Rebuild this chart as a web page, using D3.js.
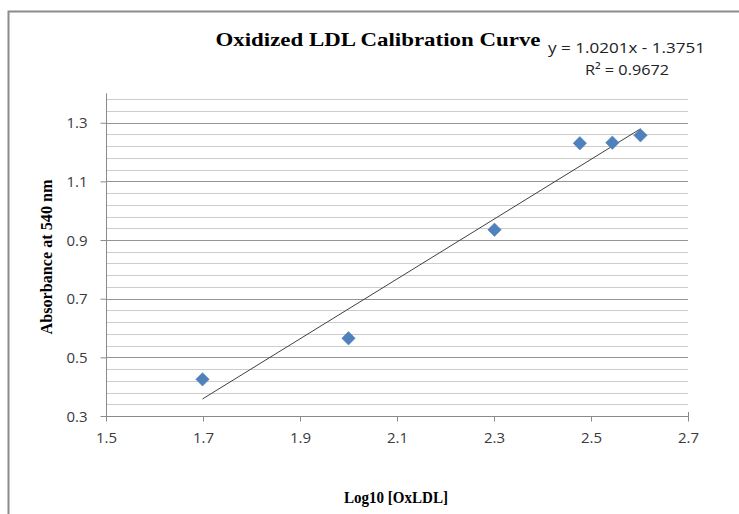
<!DOCTYPE html>
<html><head><meta charset="utf-8">
<script src="https://cdn.jsdelivr.net/npm/d3@7"></script>
<style>body{margin:0;background:#fff;} svg{display:block;}</style>
</head><body>
<script>
// Data
const logConc = [1.699, 2.0, 2.301, 2.477, 2.544, 2.602];
const absorbance = [0.425, 0.565, 0.935, 1.23, 1.232, 1.257];
const slope = 1.0201, intercept = -1.3751, r2 = 0.9672;
const xTicks = [1.5, 1.7, 1.9, 2.1, 2.3, 2.5, 2.7];
const yTicks = [0.3, 0.5, 0.7, 0.9, 1.1, 1.3];
const title = "Oxidized LDL Calibration Curve";
const xTitle = "Log10 [OxLDL]";
const yTitle = "Absorbance at 540 nm";

const W = 739, H = 514;
const svg = d3.select("body").append("svg").attr("width", W).attr("height", H);

// outer chart border
svg.append("rect").attr("x", 8.5).attr("y", 11.5).attr("width", 760).attr("height", 540)
  .attr("fill", "none").attr("stroke", "#8c8c8c").attr("stroke-width", 2);

const x = d3.scaleLinear().domain([1.5, 2.7]).range([106, 688]);
const y = d3.scaleLinear().domain([0.3, 1.4]).range([416, 93.4]);

// minor gridlines
const minor = d3.range(0.34, 1.4, 0.04).filter(v => Math.abs((v - 0.3) / 0.2 - Math.round((v - 0.3) / 0.2)) > 0.01);
svg.append("g").selectAll("line").data(minor).join("line")
  .attr("x1", x(1.5)).attr("x2", x(2.7))
  .attr("y1", d => Math.round(y(d)) + 0.5).attr("y2", d => Math.round(y(d)) + 0.5)
  .attr("stroke", "#cccccc").attr("stroke-width", 1);
// major gridlines
svg.append("g").selectAll("line").data(yTicks.slice(1)).join("line")
  .attr("x1", x(1.5)).attr("x2", x(2.7))
  .attr("y1", d => Math.round(y(d)) + 0.5).attr("y2", d => Math.round(y(d)) + 0.5)
  .attr("stroke", "#959595").attr("stroke-width", 1);

// axes
const xAxis = d3.axisBottom(x).tickValues(xTicks).tickSize(5).tickSizeOuter(0).tickFormat(d3.format(".1f"));
const gx = svg.append("g").attr("transform", `translate(0,${Math.round(y(0.3)) + 0.5})`).call(xAxis);
const yAxis = d3.axisLeft(y).tickValues(yTicks).tickSize(6).tickSizeOuter(0).tickFormat(d3.format(".1f"));
const gy = svg.append("g").attr("transform", `translate(${Math.round(x(1.5)) + 0.5},0)`).call(yAxis);
[gx, gy].forEach(g => {
  g.select(".domain").attr("stroke", "#8a8a8a");
  g.selectAll(".tick line").attr("stroke", "#8a8a8a");
  g.selectAll(".tick text").attr("fill", "#3a3a3a").attr("font-family", "Open Sans, sans-serif").attr("font-size", "15px");
});
gx.selectAll(".tick text").attr("y", 14).attr("dy", "0.85em");
gy.selectAll(".tick text").attr("x", -19).attr("dy", "0.35em");
gy.select(".domain").attr("d", `M0,${y(1.4)}V${Math.round(y(0.3))}`);
gx.select(".domain").attr("d", `M${x(1.5)-0.5},0H${x(2.7)}`);
// right end tick on x axis
svg.append("line").attr("x1", x(2.7)+0.5).attr("x2", x(2.7)+0.5).attr("y1", y(0.3)-4).attr("y2", y(0.3)+5).attr("stroke", "#8a8a8a");

// trendline
const xmin = d3.min(logConc), xmax = d3.max(logConc);
svg.append("line")
  .attr("x1", x(xmin)).attr("y1", y(slope * xmin + intercept))
  .attr("x2", x(xmax)).attr("y2", y(slope * xmax + intercept))
  .attr("stroke", "#404040").attr("stroke-width", 1);

// points
const pts = logConc.map((v, i) => [v, absorbance[i]]);
svg.append("g").selectAll("path").data(pts).join("path")
  .attr("d", d3.symbol(d3.symbolSquare, 90))
  .attr("transform", d => `translate(${x(d[0])},${y(d[1])}) rotate(45)`)
  .attr("fill", "#4f81bd").attr("stroke", "#4a7bb5").attr("stroke-width", 0.5);

// title
svg.append("text").attr("x", 378).attr("y", 46).attr("text-anchor", "middle")
  .attr("font-family", "Liberation Serif, serif").attr("font-weight", "bold").attr("font-size", "19.5px")
  .attr("textLength", 325).attr("lengthAdjust", "spacingAndGlyphs")
  .text(title);

// equation
svg.append("text").attr("x", 548).attr("y", 53)
  .attr("font-family", "Open Sans, sans-serif").attr("font-size", "15px").attr("fill", "#222")
  .attr("textLength", 157).attr("lengthAdjust", "spacingAndGlyphs")
  .text(`y = ${slope.toFixed(4)}x - ${Math.abs(intercept).toFixed(4)}`);
svg.append("text").attr("x", 585).attr("y", 75)
  .attr("font-family", "Open Sans, sans-serif").attr("font-size", "15px").attr("fill", "#222")
  .attr("textLength", 84).attr("lengthAdjust", "spacingAndGlyphs")
  .text(`R² = ${r2.toFixed(4)}`);

// axis titles
svg.append("text").attr("x", 396).attr("y", 503).attr("text-anchor", "middle")
  .attr("font-family", "Liberation Serif, serif").attr("font-weight", "bold").attr("font-size", "17px")
  .attr("textLength", 104).attr("lengthAdjust", "spacingAndGlyphs")
  .text(xTitle);
svg.append("text").attr("transform", "translate(52,257) rotate(-90)").attr("text-anchor", "middle")
  .attr("font-family", "Liberation Serif, serif").attr("font-weight", "bold").attr("font-size", "17px")
  .attr("textLength", 155).attr("lengthAdjust", "spacingAndGlyphs")
  .text(yTitle);
</script>
</body></html>
